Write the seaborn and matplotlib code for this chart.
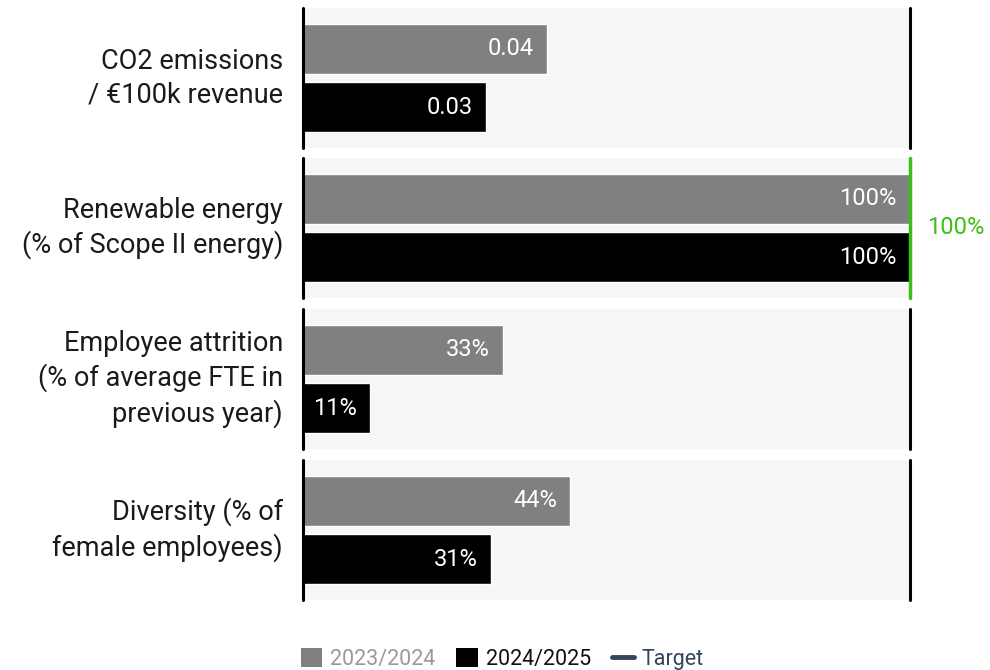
import matplotlib
matplotlib.use("Agg")
import matplotlib.pyplot as plt
import seaborn as sns
import pandas as pd
from matplotlib.patches import Patch
from matplotlib.lines import Line2D

sns.set_theme(style="white")
plt.rcParams['font.family'] = ['Roboto', 'DejaVu Sans']

categories = ["CO2 emissions\n/ €100k revenue",
              "Renewable energy\n(% of Scope II energy)",
              "Employee attrition\n(% of average FTE in\nprevious year)",
              "Diversity (% of\nfemale employees)"]
periods = ["2023/2024", "2024/2025"]
values_2023 = [0.04, 100, 33, 44]
values_2024 = [0.03, 100, 11, 31]
labels_2023 = ["0.04", "100%", "33%", "44%"]
labels_2024 = ["0.03", "100%", "11%", "31%"]
scale_max = [0.0995, 100, 100, 100]
targets = [None, 100, None, None]
target_labels = [None, "100%", None, None]

GRAY = "#808080"
BLACK = "#000000"
GREEN = "#3cbe1a"
SLATE = "#34465e"

W, H = 990, 670
fig = plt.figure(figsize=(W / 100, H / 100), dpi=100)

left_px, right_px = 303, 910
tops = [8, 158, 309, 460]
ph = 140

for i, cat in enumerate(categories):
    top = tops[i]
    ax = fig.add_axes([left_px / W, 1 - (top + ph) / H, (right_px - left_px) / W, ph / H])
    ax.set_facecolor("#f6f6f6")
    df = pd.DataFrame({"period": periods, "value": [values_2023[i], values_2024[i]]})
    sns.barplot(data=df, x="value", y="period", hue="period", order=periods,
                palette={periods[0]: GRAY, periods[1]: BLACK}, orient="h",
                width=0.85, ax=ax, legend=False, saturation=1)
    ax.set_xlim(0, scale_max[i])
    ax.set_ylim(1.69, -0.69)
    ax.set_xlabel("")
    ax.set_ylabel("")
    ax.set_xticks([])
    ax.set_yticks([])
    for s in ax.spines.values():
        s.set_visible(False)
    ax.axvline(0, color="black", lw=2.2, clip_on=False)
    tcolor = GREEN if targets[i] is not None else "black"
    ax.axvline(scale_max[i], color=tcolor, lw=2.5 if targets[i] is not None else 2.2, clip_on=False)
    for j, (v, lab) in enumerate(zip([values_2023[i], values_2024[i]], [labels_2023[i], labels_2024[i]])):
        ax.annotate(lab, xy=(v, j), xytext=(-9.5, 0), textcoords="offset points",
                    ha="right", va="center", color="white", fontsize=17, fontweight="normal")
    ax.text(-20 / (right_px - left_px), 0.5, cat, transform=ax.transAxes,
            ha="right", va="center", fontsize=19.5, color="#1a1a1a", linespacing=1.32)
    if target_labels[i]:
        ax.annotate(target_labels[i], xy=(1, 0.5), xycoords="axes fraction",
                    xytext=(12, 0), textcoords="offset points", ha="left", va="center",
                    color=GREEN, fontsize=17, fontweight="normal")

handles = [Patch(facecolor=GRAY, edgecolor="none"),
           Patch(facecolor=BLACK, edgecolor="none"),
           Line2D([0], [0], color=SLATE, lw=3.5)]
leg = fig.legend(handles, ["2023/2024", "2024/2025", "Target"], loc="center",
                 bbox_to_anchor=(502 / W, 1 - 659 / H), ncol=3, frameon=False,
                 fontsize=15.5, handlelength=1.0, handleheight=1.0, handletextpad=0.35,
                 columnspacing=1.0)
for t, c in zip(leg.get_texts(), ["#999999", "#111111", SLATE]):
    t.set_color(c)

fig.savefig("out.png", dpi=100)
